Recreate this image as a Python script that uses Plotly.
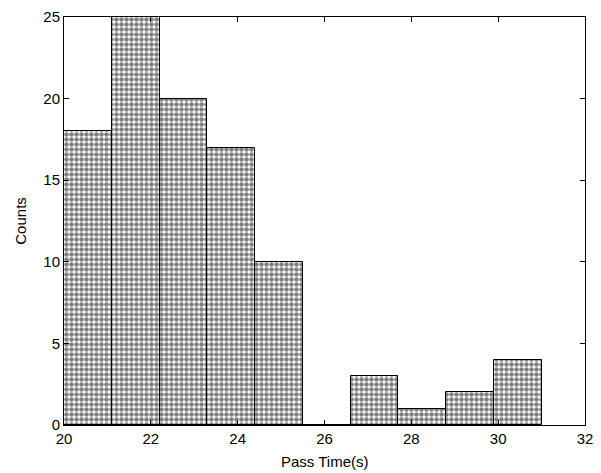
import plotly.graph_objects as go

bin_centers = [20.55, 21.65, 22.75, 23.85, 24.95, 26.05, 27.15, 28.25, 29.35, 30.45]
counts = [18, 25, 20, 17, 10, 0, 3, 1, 2, 4]
bin_width = 1.1
x_ticks = [20, 22, 24, 26, 28, 30, 32]
y_ticks = [0, 5, 10, 15, 20, 25]

fig = go.Figure(go.Bar(
    x=bin_centers, y=counts, width=bin_width,
    marker=dict(
        color="white",
        line=dict(color="black", width=1),
        pattern=dict(shape=".", size=5, solidity=0.65, fgcolor="black", bgcolor="white", fillmode="overlay"),
    ),
))

font = dict(family="Liberation Sans, Arial, sans-serif", size=15, color="black")
fig.update_layout(
    width=601, height=473,
    margin=dict(l=64, r=16, t=17, b=48),
    plot_bgcolor="white", paper_bgcolor="white",
    font=font, showlegend=False, bargap=0,
    annotations=[
        dict(text="Pass Time(s)", xref="paper", yref="paper", x=0.5, y=-0.09,
             showarrow=False, xanchor="center", yanchor="middle", font=font),
        dict(text="Counts", xref="paper", yref="paper", x=-0.085, y=0.5, textangle=-90,
             showarrow=False, xanchor="center", yanchor="middle", font=font),
    ],
)
axis_common = dict(
    ticks="inside", ticklen=5, tickcolor="black", tickfont=font,
    showline=True, linecolor="black", linewidth=1, mirror="ticks",
    showgrid=False, zeroline=False, automargin=False,
)
fig.update_xaxes(range=[20, 32], tickvals=x_ticks, **axis_common)
fig.update_yaxes(range=[0, 25], tickvals=y_ticks, **axis_common)
fig.write_html("out.html", config={"displayModeBar": False},
               post_script="document.body.style.margin='0';")
